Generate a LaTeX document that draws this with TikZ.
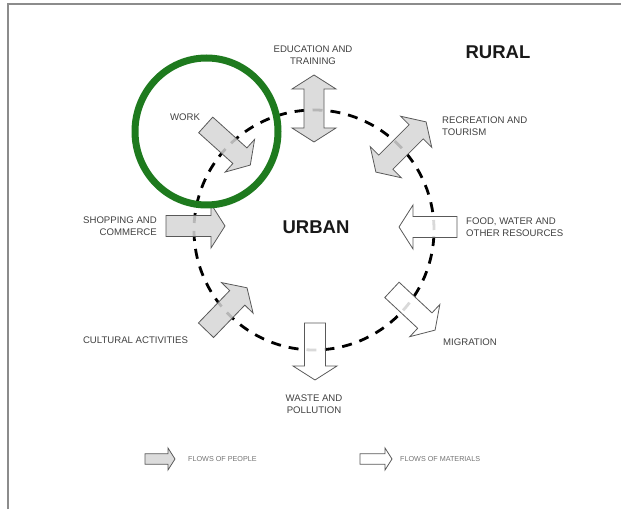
\documentclass[tikz,border=0pt]{standalone}
\usepackage{fontspec}
\setmainfont{Liberation Sans}

\definecolor{ringgreen}{RGB}{30,122,30}
\definecolor{flowgray}{RGB}{214,214,214}

% block arrows: [scale]{style}{centre}{angle}{length}
\newcommand{\onewayarrow}[5][1]{%
  \begin{scope}[shift={#3}, rotate=#4, scale=#1]
    \draw[#2] ({-#5/2},-10.5) -- ({#5/2-14},-10.5) -- ({#5/2-14},-22) -- ({#5/2},0)
      -- ({#5/2-14},22) -- ({#5/2-14},10.5) -- ({-#5/2},10.5) -- cycle;
  \end{scope}}
\newcommand{\twowayarrow}[4]{%
  \begin{scope}[shift={#2}, rotate=#3]
    \draw[#1] ({-#4/2},0) -- ({-#4/2+14},22) -- ({-#4/2+14},10) -- ({#4/2-14},10)
      -- ({#4/2-14},22) -- ({#4/2},0) -- ({#4/2-14},-22) -- ({#4/2-14},-10)
      -- ({-#4/2+14},-10) -- ({-#4/2+14},-22) -- cycle;
  \end{scope}}

\begin{document}
\begin{tikzpicture}[x=1pt, y=1pt]
    \tikzstyle{people} = [draw=black!65, line width=0.8pt, fill=flowgray, fill opacity=0.85]
    \tikzstyle{materials} = [draw=black!65, line width=0.8pt, fill=white, fill opacity=0.85]
    \tikzstyle{flowlabel} = [inner sep=0pt, text=black!75, font=\fontsize{9.6}{12}\selectfont]
    \tikzstyle{areaname} = [inner sep=0pt, text=black!90, font=\fontsize{18.5}{22}\selectfont\bfseries]
    \tikzstyle{keytext} = [inner sep=0pt, text=black!55, font=\fontsize{7.2}{8}\selectfont]

    \useasboundingbox (0,0) rectangle (621,509);

    % Frame
    \draw[black!45, line width=1.5pt] (8,0) -- (8,505) -- (621,505);

    % Ring round the town
    \draw[line width=2.8pt, dash pattern=on 10pt off 8pt] (314,279) circle (120pt);

    % Flows of people
    \twowayarrow{people}{(314,400.5)}{90}{67}
    \onewayarrow{people}{(228,364)}{-42}{60}
    \twowayarrow{people}{(401,362)}{45}{71}
    \onewayarrow{people}{(195.5,283)}{0}{59}
    \onewayarrow{people}{(226.5,200)}{46}{59}

    % Flows of materials
    \onewayarrow{materials}{(428,282)}{180}{58}
    \onewayarrow{materials}{(413.5,199)}{-43}{59}
    \onewayarrow{materials}{(315,157.5)}{-90}{57}

    % Labels
    \node[flowlabel, align=center] (education) at (313,453.5) {EDUCATION AND\\TRAINING};
    \node[flowlabel] (work) at (185,392) {WORK};
    \node[flowlabel, anchor=west, align=left] (recreation) at (442,382.5) {RECREATION AND\\TOURISM};
    \node[flowlabel, anchor=east, align=right] (shopping) at (157,282.5) {SHOPPING AND\\COMMERCE};
    \node[flowlabel, anchor=west, align=left] (food) at (466,281.5) {FOOD, WATER AND\\OTHER RESOURCES};
    \node[flowlabel] (cultural) at (135.5,169) {CULTURAL ACTIVITIES};
    \node[flowlabel, anchor=west] (migration) at (443,167) {MIGRATION};
    \node[flowlabel, align=center] (waste) at (314,105) {WASTE AND\\POLLUTION};
    \node[areaname] (rural) at (498,457) {RURAL};
    \node[areaname] (urban) at (316,282) {URBAN};

    % Key
    \onewayarrow[0.5]{people}{(160,50)}{0}{60}
    \node[keytext, anchor=west] (peoplekey) at (188,50) {FLOWS OF PEOPLE};
    \onewayarrow[0.5]{materials}{(376,50)}{0}{64}
    \node[keytext, anchor=west] (materialkey) at (400,50) {FLOWS OF MATERIALS};

    % Highlight
    \draw[ringgreen, line width=7pt] (206.5,377.5) ellipse [x radius=71.5pt, y radius=73.5pt];
\end{tikzpicture}
\end{document}
